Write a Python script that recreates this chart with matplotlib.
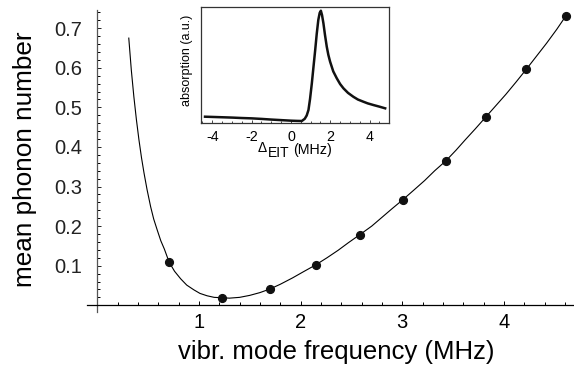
import matplotlib
matplotlib.use("Agg")
import matplotlib.pyplot as plt
from matplotlib.ticker import FixedLocator, MultipleLocator

plt.rcParams["font.family"] = ["Liberation Sans", "DejaVu Sans"]
plt.rcParams["axes.unicode_minus"] = False

# measured points (vibr. mode frequency in MHz, mean phonon number)
freq_pts = [0.707, 1.227, 1.698, 2.149, 2.581, 3.003, 3.43, 3.82, 4.22, 4.61]
phonon_pts = [0.109, 0.019, 0.041, 0.102, 0.178, 0.266, 0.365, 0.475, 0.596, 0.731]

# theory curve
curve_freq = [0.31, 0.335, 0.36, 0.385, 0.41, 0.435, 0.46, 0.49, 0.525, 0.555, 0.59,
              0.625, 0.66, 0.707, 0.76, 0.82, 0.88, 0.95, 1.01, 1.08, 1.15, 1.227,
              1.3, 1.4, 1.5, 1.6, 1.698, 1.8, 1.92, 2.03, 2.149, 2.26, 2.37, 2.47,
              2.581, 2.7, 2.8, 2.9, 3.003, 3.11, 3.22, 3.32, 3.43, 3.53, 3.62, 3.72,
              3.82, 3.92, 4.02, 4.12, 4.22, 4.32, 4.42, 4.52, 4.61]
curve_phonon = [0.675, 0.594, 0.527, 0.469, 0.418, 0.373, 0.334, 0.292, 0.249, 0.218, 0.190,
                0.163, 0.142, 0.109, 0.086, 0.067, 0.051, 0.039, 0.030, 0.024, 0.020, 0.019,
                0.018, 0.020, 0.025, 0.032, 0.041, 0.053, 0.069, 0.085, 0.102, 0.120, 0.139, 0.158,
                0.178, 0.200, 0.222, 0.244, 0.266, 0.290, 0.315, 0.340, 0.365, 0.392, 0.418, 0.446,
                0.475, 0.504, 0.533, 0.564, 0.596, 0.629, 0.662, 0.697, 0.731]

# inset: EIT absorption profile
eit_detuning = [-4.37, -3.5, -3.0, -2.5, -2.0, -1.5, -1.0, -0.5, 0.0, 0.3, 0.55, 0.7, 0.8,
                0.89, 0.97, 1.06, 1.15, 1.23, 1.31, 1.39, 1.46, 1.52, 1.58, 1.65, 1.73,
                1.82, 1.9, 1.99, 2.15, 2.33, 2.5, 2.67, 2.9, 3.17, 3.4, 3.68, 3.9, 4.19,
                4.5, 4.79]
eit_absorption = [0.039, 0.034, 0.031, 0.027, 0.024, 0.019, 0.013, 0.008, 0.003, 0.001, 0.0,
                  0.02, 0.05, 0.10, 0.20, 0.34, 0.50, 0.64, 0.79, 0.916, 0.98, 1.0, 0.96,
                  0.886, 0.78, 0.674, 0.60, 0.538, 0.45, 0.387, 0.335, 0.296, 0.255, 0.22,
                  0.195, 0.175, 0.16, 0.145, 0.13, 0.115]

W, H = 574, 367
fig = plt.figure(figsize=(W / 100, H / 100), dpi=100)
ax = fig.add_axes([86.8 / W, 55 / H, 487.2 / W, 302 / H])

ax.plot(curve_freq, curve_phonon, color="black", lw=0.8)
ax.plot(freq_pts, phonon_pts, "o", color="#111111", ms=5.6)

ax.set_xlim(-0.103, 4.69)
ax.set_ylim(-0.017, 0.746)
for s in ["top", "right"]:
    ax.spines[s].set_visible(False)
ax.spines["left"].set_position(("data", 0))
ax.spines["bottom"].set_position(("data", 0))
ax.spines["left"].set_color("#555555")
ax.spines["left"].set_linewidth(0.9)
ax.spines["bottom"].set_linewidth(0.9)

ax.xaxis.set_major_locator(FixedLocator([1, 2, 3, 4]))
ax.xaxis.set_minor_locator(MultipleLocator(0.2))
ax.yaxis.set_major_locator(FixedLocator([0.1, 0.2, 0.3, 0.4, 0.5, 0.6, 0.7]))
ax.yaxis.set_minor_locator(MultipleLocator(0.02))
ax.tick_params(axis="both", which="both", direction="in", width=0.7, labelsize=14.5)
ax.tick_params(axis="x", which="major", length=3.2, pad=5.5)
ax.tick_params(axis="x", which="minor", length=2.2)
ax.tick_params(axis="y", which="major", length=3.2, pad=11, colors="#222222")
ax.tick_params(axis="y", which="minor", length=2.2)

ax.set_xlabel("vibr. mode frequency (MHz)", fontsize=18.5, va="center")
ax.xaxis.set_label_coords(0.5115, -0.132)
ax.set_ylabel("mean phonon number", fontsize=18.8, va="center")
ax.yaxis.set_label_coords(-0.127, 0.507)

# inset
ins = fig.add_axes([200.7 / W, (H - 122.7) / H, 188.6 / W, 115.4 / H])
ins.plot(eit_detuning, eit_absorption, color="#111111", lw=1.8)
ins.set_xlim(-4.59, 5.0)
ins.set_ylim(-0.0154, 1.031)
for s in ins.spines.values():
    s.set_color("#333333")
    s.set_linewidth(0.9)
ins.set_yticks([])
ins.xaxis.set_major_locator(MultipleLocator(2))
ins.xaxis.set_minor_locator(MultipleLocator(0.5))
ins.tick_params(axis="x", which="both", direction="in", width=0.5, labelsize=10.3, pad=5.5)
ins.tick_params(axis="x", which="major", length=2.0)
ins.tick_params(axis="x", which="minor", length=1.5)
ins.set_ylabel("absorption (a.u.)", fontsize=9, va="center")
ins.yaxis.set_label_coords(-0.073, 0.543)

# inset x label: Delta with lowered "EIT" subscript, then unit
fig.text(262.5 / W, 1 - 151.7 / H, "\u0394", fontsize=10, ha="center", va="baseline")
fig.text(268 / W, 1 - 156.7 / H, "EIT", fontsize=10, ha="left", va="baseline")
fig.text(293 / W, 1 - 154 / H, "(MHz)", fontsize=10.3, ha="left", va="baseline")

fig.savefig("out.png", dpi=100, facecolor="white")
